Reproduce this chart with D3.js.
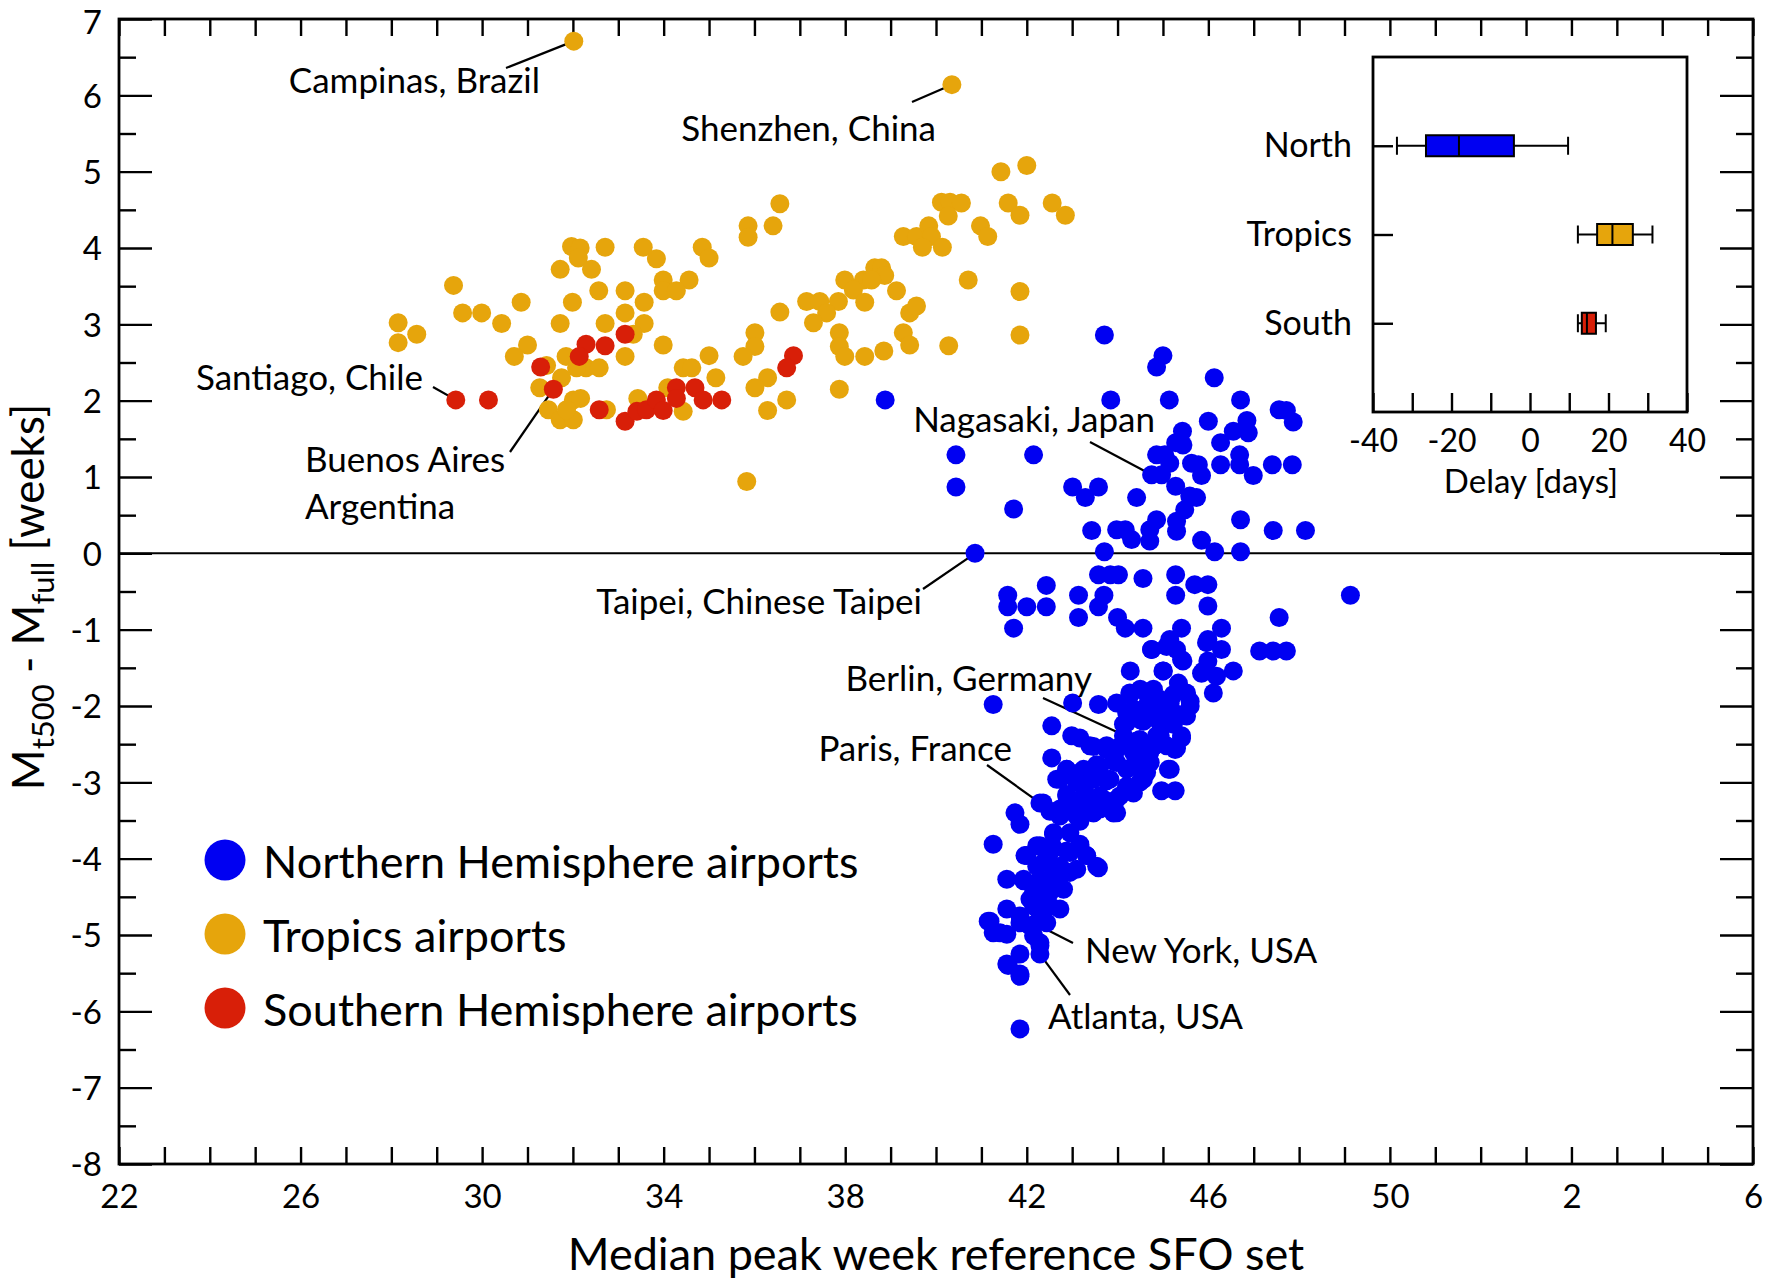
<!DOCTYPE html>
<html>
<head>
<meta charset="utf-8">
<script src="https://cdn.jsdelivr.net/npm/d3@7"></script>
<style>
  body { margin: 0; background: #fff; }
  svg { display: block; font-family: Lato, "Open Sans", sans-serif; }
</style>
</head>
<body>
<svg id="chart"></svg>
<script>
// ---- data (week of peak, M_t500 - M_full in weeks) ----
const northern = [
  [43.71,2.86],[38.88,2.01],[43.85,2.01],[40.44,1.29],[42.15,1.29],[40.44,0.87],[41.71,0.58],[43.01,0.87],
  [43.58,0.87],[43.29,0.73],[43.43,0.30],[43.98,0.31],[44.17,0.31],[40.86,0.0],[43.71,0.02],[43.58,-0.28],
  [43.84,-0.28],[44.02,-0.28],[42.43,-0.42],[41.58,-0.55],[41.58,-0.70],[42.00,-0.70],[42.43,-0.70],[41.71,-0.98],
  [43.14,-0.55],[43.70,-0.55],[43.58,-0.70],[43.14,-0.84],[44.00,-0.84],[44.17,-0.98],[44.28,-1.54],
  [45.00,2.59],[44.86,2.44],[46.13,2.30],[45.14,2.01],[46.71,2.01],[47.56,1.88],[47.72,1.87],[47.87,1.72],
  [46.00,1.73],[46.85,1.74],[46.55,1.60],[46.88,1.58],[45.43,1.60],[45.28,1.45],[45.44,1.42],[46.27,1.45],
  [44.86,1.29],[45.04,1.29],[46.69,1.29],[45.15,1.18],[45.63,1.18],[45.78,1.16],[46.27,1.16],[46.69,1.16],
  [47.41,1.16],[47.85,1.16],[44.75,1.03],[44.97,1.03],[45.85,1.02],[46.99,1.02],[45.28,0.88],[44.42,0.73],
  [45.59,0.75],[45.74,0.73],[45.48,0.57],[44.86,0.44],[45.30,0.42],[46.71,0.44],[44.71,0.31],[45.30,0.29],
  [47.43,0.30],[48.14,0.30],[44.31,0.18],[44.71,0.16],[45.85,0.17],[46.14,0.02],[46.71,0.02],[44.56,-0.33],
  [45.28,-0.28],[45.70,-0.41],[45.99,-0.41],[45.28,-0.55],[45.99,-0.69],[49.13,-0.55],[47.56,-0.84],[44.56,-0.98],
  [45.41,-0.98],[46.29,-0.98],[45.15,-1.13],[45.99,-1.13],[44.75,-1.26],[45.30,-1.26],[46.29,-1.26],[47.13,-1.28],
  [47.43,-1.28],[47.72,-1.28],[45.44,-1.41],[45.99,-1.41],[45.00,-1.54],[46.55,-1.54],[45.85,-1.57],
  [41.26,-1.98],[43.01,-1.96],[43.58,-1.98],[43.98,-1.96],[44.28,-1.85],[44.50,-1.78],[44.79,-1.78],[45.38,-1.78],
  [45.60,-1.94],[44.20,-2.09],[44.64,-2.00],[45.16,-1.96],[45.34,-2.11],[44.86,-2.13],[44.50,-2.18],[44.13,-2.24],
  [42.55,-2.26],[42.99,-2.39],[43.17,-2.42],[43.47,-2.53],[43.76,-2.57],[44.05,-2.53],[44.42,-2.46],[44.79,-2.53],
  [44.94,-2.39],[45.41,-2.42],[45.27,-2.57],[42.55,-2.68],[42.88,-2.83],[43.17,-2.87],[43.54,-2.77],[43.91,-2.72],
  [44.20,-2.83],[44.50,-2.70],[44.72,-2.74],[45.16,-2.83],[44.57,-2.96],[42.66,-2.96],[43.32,-3.00],[43.76,-2.98],
  [44.20,-3.07],[44.97,-3.11],[45.27,-3.11],[42.29,-3.27],[42.51,-3.38],[42.88,-3.16],[42.95,-3.31],[43.25,-3.27],
  [43.61,-3.35],[43.98,-3.40],[42.73,-3.44],[43.17,-3.51],[41.74,-3.40],[41.85,-3.55],[41.26,-3.81],[42.59,-3.68],
  [42.29,-3.83],[43.17,-3.81],[41.96,-3.96],[42.51,-3.92],[42.88,-3.90],[43.32,-3.96],[43.58,-4.12],[42.22,-4.10],
  [42.59,-4.14],[42.95,-4.18],[41.56,-4.27],[41.93,-4.29],[42.29,-4.31],[42.66,-4.36],[42.07,-4.53],[42.44,-4.53],
  [42.73,-4.66],[41.56,-4.66],[42.29,-4.71],[41.15,-4.82],[41.85,-4.75],[41.26,-4.97],[41.56,-4.99],[42.07,-4.88],
  [42.44,-4.84],[42.29,-5.10],[42.29,-5.25],[41.85,-5.25],[41.56,-5.38],[41.85,-5.51],[41.85,-6.23],
  // dense core, read from close-up
  [44.75,-1.26],[45.08,-1.22],[45.41,-1.39],[45.01,-1.54],[45.34,-1.70],[45.96,-1.17],[45.89,-1.54],[46.11,-1.83],
  [46.18,-1.61],[44.27,-1.83],[44.64,-1.83],[44.93,-1.91],[45.23,-1.85],[45.52,-1.83],[45.60,-2.00],[45.52,-2.13],
  [44.35,-2.04],[44.71,-2.04],[45.08,-2.04],[44.93,-2.22],[44.57,-2.20],[44.20,-2.22],[45.23,-2.24],[44.13,-2.39],
  [44.49,-2.44],[44.86,-2.39],[44.71,-2.61],[45.08,-2.52],[44.35,-2.61],[43.98,-2.57],[45.41,-2.39],[45.30,-2.55],
  [43.39,-2.52],[43.76,-2.52],[45.12,-2.83],[42.88,-2.83],[43.25,-2.83],[43.61,-2.79],[43.98,-2.74],[44.35,-2.79],
  [44.64,-2.87],[42.73,-2.96],[43.10,-3.00],[43.47,-2.96],[43.83,-2.96],[44.20,-3.05],[44.49,-3.00],[42.88,-3.18],
  [43.25,-3.18],[43.61,-3.18],[43.98,-3.22],[44.35,-3.14],[42.36,-3.27],[42.73,-3.35],[43.10,-3.35],[43.47,-3.40],
  [43.91,-3.40],[42.95,-3.22],[43.32,-3.18],[43.69,-3.22],[44.05,-3.18],[43.91,-3.40],[43.47,-3.40],[43.10,-3.44],
  [42.59,-3.66],[42.95,-3.66],[43.17,-3.83],[43.54,-4.10],[42.22,-3.83],[42.59,-3.86],[42.95,-3.92],[43.32,-3.96],
  [42.00,-3.96],[42.37,-4.05],[42.73,-4.10],[43.10,-4.14],[41.93,-4.27],[42.29,-4.27],[42.66,-4.27],[42.15,-4.44],
  [42.51,-4.44],[42.81,-4.40],[42.15,-4.62],[42.51,-4.62],[41.19,-4.82],[41.41,-4.97],[41.85,-4.84],[42.22,-4.84],
  [42.15,-5.01],[42.29,-5.14],[41.59,-5.40],[41.85,-5.54]
];

const tropics = [
  [32.02,6.71],[40.35,6.14],
  [29.37,3.51],[28.15,3.02],[28.15,2.76],[28.56,2.87],[29.57,3.15],[29.99,3.15],[30.43,3.01],[30.86,3.29],
  [31.00,2.73],[30.71,2.58],[31.72,3.72],[31.97,4.02],[32.16,4.00],[32.12,3.87],[32.41,3.72],[32.71,4.01],
  [33.55,4.01],[33.84,3.86],[34.85,4.01],[35.00,3.87],[32.57,3.44],[33.15,3.44],[31.99,3.29],[33.15,3.15],
  [33.57,3.29],[33.99,3.58],[34.56,3.58],[33.99,3.44],[34.28,3.44],[31.72,3.01],[32.71,3.01],[33.57,3.01],
  [33.33,2.87],[33.99,2.73],[33.15,2.58],[31.85,2.58],[32.29,2.43],[32.58,2.43],[32.08,2.43],[31.42,2.46],
  [31.75,2.30],[31.27,2.17],[31.46,1.88],[31.72,1.75],[32.01,1.75],[32.01,2.01],[32.17,2.03],[31.86,1.88],
  [32.74,1.88],[33.43,2.03],[34.43,2.43],[34.62,2.43],[35.00,2.59],[35.15,2.30],[34.09,2.17],[34.43,1.86],
  [41.43,5.00],[42.00,5.08],[36.56,4.58],[35.86,4.29],[35.86,4.14],[36.41,4.29],[40.12,4.60],[40.31,4.60],
  [40.56,4.59],[40.27,4.42],[41.59,4.59],[41.85,4.43],[42.56,4.59],[42.85,4.43],[39.28,4.15],[39.57,4.15],
  [39.84,4.29],[39.90,4.15],[39.70,4.01],[40.14,4.01],[40.98,4.29],[41.14,4.15],[38.65,3.74],[38.80,3.74],
  [38.87,3.64],[38.40,3.58],[38.58,3.58],[37.99,3.58],[38.18,3.45],[39.13,3.44],[40.71,3.58],[41.85,3.43],
  [36.56,3.16],[37.15,3.30],[37.44,3.30],[37.85,3.30],[37.59,3.15],[38.43,3.29],[37.30,3.02],[39.42,3.15],
  [39.57,3.24],[36.01,2.89],[36.01,2.71],[35.75,2.58],[37.87,2.89],[37.87,2.71],[37.99,2.58],[38.43,2.58],
  [38.85,2.65],[39.28,2.89],[39.42,2.73],[40.28,2.72],[41.85,2.86],[36.29,2.30],[36.01,2.17],[36.71,2.01],
  [36.29,1.87],[37.87,2.15],[35.83,0.94]
];

const southern = [
  [29.42,2.01],[30.14,2.01],[31.29,2.44],[31.57,2.15],[32.29,2.74],[32.14,2.58],[32.71,2.72],[33.15,2.87],
  [32.58,1.88],[33.15,1.73],[33.41,1.86],[33.62,1.88],[33.84,2.01],[33.99,1.87],[34.28,2.17],[34.28,2.03],
  [34.69,2.17],[34.87,2.01],[35.28,2.01],[36.86,2.59],[36.71,2.43]
];

const seriesNames = ["Northern Hemisphere airports", "Tropics airports", "Southern Hemisphere airports"];
const seriesColors = ["#0000f2", "#e6a50c", "#d81f08"];

const xTickValues = [22, 26, 30, 34, 38, 42, 46, 50, 54, 58];
const xTickLabels = ["22", "26", "30", "34", "38", "42", "46", "50", "2", "6"];
const yTickValues = [-8, -7, -6, -5, -4, -3, -2, -1, 0, 1, 2, 3, 4, 5, 6, 7];

// annotated airports: name lines and the point they mark
const annotNames = [["Campinas, Brazil"], ["Shenzhen, China"], ["Santiago, Chile"], ["Buenos Aires", "Argentina"],
  ["Nagasaki, Japan"], ["Taipei, Chinese Taipei"], ["Berlin, Germany"], ["Paris, France"], ["New York, USA"], ["Atlanta, USA"]];
const annotTargets = [[32.02,6.71],[40.35,6.14],[29.42,2.01],[31.57,2.15],[44.75,1.03],[40.86,0.0],
  [44.42,-2.46],[42.29,-3.27],[41.85,-4.75],[42.29,-5.25]];

// inset: delay in days
const boxCats = ["North", "Tropics", "South"];
const boxLo = [-33.9, 12.2, 12.2];
const boxQ1 = [-26.5, 17.1, 13.2];
const boxMed = [-18.1, 21.0, 14.5];
const boxQ3 = [-4.1, 26.2, 16.8];
const boxHi = [9.7, 31.2, 19.3];
const insetTicks = [-40, -20, 0, 20, 40];

// ---- layout ----
const W = 1772, H = 1284;
const plot = {left: 119, right: 1753, top: 19, bottom: 1164};
const svg = d3.select("#chart").attr("width", W).attr("height", H);
svg.append("rect").attr("width", W).attr("height", H).attr("fill", "#fff");

const x = d3.scaleLinear().domain([22, 58]).range([plot.left, plot.right]);
const y = d3.scaleLinear().domain([-8, 7]).range([plot.bottom, plot.top]);

const axisFont = "Lato, 'Open Sans', sans-serif";

function styleAxis(g, w) {
  g.select(".domain").remove();
  g.selectAll(".tick line").attr("stroke", "#000").attr("stroke-width", w);
  g.selectAll("text").attr("font-family", axisFont).attr("font-size", 33).attr("fill", "#000");
}

// y ticks left and right
svg.append("g").attr("transform", `translate(${plot.left},0)`)
  .call(d3.axisLeft(y).tickValues(yTickValues).tickSize(-33).tickPadding(17).tickFormat(d => String(d)))
  .call(g => styleAxis(g, 2.4))
  .call(g => g.selectAll("text").attr("dy", d => d === 7 ? "0.45em" : "0.36em"));
svg.append("g").attr("transform", `translate(${plot.left},0)`)
  .call(d3.axisLeft(y).tickValues(d3.range(-7.5, 7, 1)).tickSize(-17).tickFormat(""))
  .call(g => styleAxis(g, 2.4));
svg.append("g").attr("transform", `translate(${plot.right},0)`)
  .call(d3.axisRight(y).tickValues(yTickValues).tickSize(-33).tickFormat(""))
  .call(g => styleAxis(g, 2.4));
svg.append("g").attr("transform", `translate(${plot.right},0)`)
  .call(d3.axisRight(y).tickValues(d3.range(-7.5, 7, 1)).tickSize(-17).tickFormat(""))
  .call(g => styleAxis(g, 2.4));

// x ticks bottom and top (weekly)
svg.append("g").attr("transform", `translate(0,${plot.bottom})`)
  .call(d3.axisBottom(x).tickValues(d3.range(22, 59)).tickSize(-17).tickFormat(""))
  .call(g => styleAxis(g, 2.4));
svg.append("g").attr("transform", `translate(0,${plot.bottom})`)
  .call(d3.axisBottom(x).tickValues(xTickValues).tickSize(0).tickPadding(21)
    .tickFormat((d, i) => xTickLabels[i]))
  .call(g => styleAxis(g, 0));
svg.append("g").attr("transform", `translate(0,${plot.top})`)
  .call(d3.axisTop(x).tickValues(d3.range(22, 59)).tickSize(-17).tickFormat(""))
  .call(g => styleAxis(g, 2.4));

// frame + zero line
svg.append("rect")
  .attr("x", plot.left).attr("y", plot.top)
  .attr("width", plot.right - plot.left).attr("height", plot.bottom - plot.top)
  .attr("fill", "none").attr("stroke", "#000").attr("stroke-width", 2.8);
svg.append("line")
  .attr("x1", plot.left).attr("x2", plot.right)
  .attr("y1", y(0)).attr("y2", y(0))
  .attr("stroke", "#000").attr("stroke-width", 2);

// axis titles
svg.append("text")
  .attr("x", (plot.left + plot.right) / 2).attr("y", 1270)
  .attr("text-anchor", "middle").attr("font-size", 45)
  .text("Median peak week reference SFO set");

const yt = svg.append("text")
  .attr("transform", "translate(44,597) rotate(-90)")
  .attr("text-anchor", "middle").attr("font-size", 44);
yt.append("tspan").text("M");
yt.append("tspan").attr("font-size", 31).attr("dy", 10).text("t500");
yt.append("tspan").attr("dy", -10).text(" - M");
yt.append("tspan").attr("font-size", 31).attr("dy", 10).text("full");
yt.append("tspan").attr("dy", -10).text(" [weeks]");

// annotation leader lines (under the points)
const labelLayout = [
  {tx: 540, ty: 93, anchor: "end", lx: 506, ly: 68},
  {tx: 936, ty: 141, anchor: "end", lx: 912, ly: 102},
  {tx: 423, ty: 390, anchor: "end", lx: 433, ly: 387},
  {tx: 305, ty: 472, anchor: "start", lx: 510, ly: 452},
  {tx: 1155, ty: 432, anchor: "end", lx: 1090, ly: 442},
  {tx: 922, ty: 614, anchor: "end", lx: 923, ly: 589},
  {tx: 1092, ty: 691, anchor: "end", lx: 1043, ly: 698},
  {tx: 1012, ty: 761, anchor: "end", lx: 987, ly: 765},
  {tx: 1085, ty: 963, anchor: "start", lx: 1073, ly: 943},
  {tx: 1048, ty: 1029, anchor: "start", lx: 1070, ly: 995}
];

svg.append("g").selectAll("line")
  .data(annotTargets)
  .join("line")
  .attr("x1", (d, i) => labelLayout[i].lx).attr("y1", (d, i) => labelLayout[i].ly)
  .attr("x2", d => x(d[0])).attr("y2", d => y(d[1]))
  .attr("stroke", "#000").attr("stroke-width", 2.2);

// points
const groups = [northern, tropics, southern];
groups.forEach((pts, gi) => {
  svg.append("g").selectAll("circle")
    .data(pts)
    .join("circle")
    .attr("cx", d => x(d[0])).attr("cy", d => y(d[1]))
    .attr("r", 9.5)
    .attr("fill", seriesColors[gi]);
});

// annotation texts
const annG = svg.append("g").attr("font-size", 35);
annotNames.forEach((lines, i) => {
  const L = labelLayout[i];
  const t = annG.append("text").attr("x", L.tx).attr("y", L.ty).attr("text-anchor", L.anchor);
  lines.forEach((s, j) => t.append("tspan").attr("x", L.tx).attr("dy", j ? 47 : 0).text(s));
});

// legend
const legend = svg.append("g");
seriesNames.forEach((name, i) => {
  const cy = 860 + i * 74;
  legend.append("circle").attr("cx", 225).attr("cy", cy).attr("r", 20.5).attr("fill", seriesColors[i]);
  legend.append("text").attr("x", 263).attr("y", cy + 18).attr("font-size", 45).text(name);
});

// ---- inset box plot ----
const inset = {left: 1373, right: 1687, top: 57, bottom: 412};
const xi = d3.scaleLinear().domain([-40, 40]).range([inset.left, inset.right]);
const yi = d3.scalePoint().domain(boxCats).range([inset.top, inset.bottom]).padding(1);

svg.append("rect")
  .attr("x", inset.left).attr("y", inset.top)
  .attr("width", inset.right - inset.left).attr("height", inset.bottom - inset.top)
  .attr("fill", "#fff").attr("stroke", "#000").attr("stroke-width", 2.8);

svg.append("g").attr("transform", `translate(0,${inset.bottom})`)
  .call(d3.axisBottom(xi).tickValues(d3.range(-40, 41, 10)).tickSize(-19).tickFormat(""))
  .call(g => styleAxis(g, 2.4));
svg.append("g").attr("transform", `translate(0,${inset.bottom})`)
  .call(d3.axisBottom(xi).tickValues(insetTicks).tickSize(0).tickPadding(17).tickFormat(d => String(d)))
  .call(g => styleAxis(g, 0))
  .call(g => g.selectAll("text").attr("font-size", 32));
svg.append("g").attr("transform", `translate(${inset.left},0)`)
  .call(d3.axisLeft(yi).tickSize(-20).tickPadding(21))
  .call(g => styleAxis(g, 2.4))
  .call(g => g.selectAll("text").attr("font-size", 34));

svg.append("text")
  .attr("x", (inset.left + inset.right) / 2 + 1).attr("y", 493)
  .attr("text-anchor", "middle").attr("font-size", 33)
  .text("Delay [days]");

const boxH = 21, capH = 18;
boxCats.forEach((c, i) => {
  const cy = yi(c);
  const g = svg.append("g").attr("stroke", "#000").attr("stroke-width", 2);
  g.append("line").attr("x1", xi(boxLo[i])).attr("x2", xi(boxHi[i])).attr("y1", cy).attr("y2", cy);
  g.append("line").attr("x1", xi(boxLo[i])).attr("x2", xi(boxLo[i])).attr("y1", cy - capH / 2).attr("y2", cy + capH / 2);
  g.append("line").attr("x1", xi(boxHi[i])).attr("x2", xi(boxHi[i])).attr("y1", cy - capH / 2).attr("y2", cy + capH / 2);
  g.append("rect")
    .attr("x", xi(boxQ1[i])).attr("y", cy - boxH / 2)
    .attr("width", xi(boxQ3[i]) - xi(boxQ1[i])).attr("height", boxH)
    .attr("fill", seriesColors[i]);
  g.append("line").attr("x1", xi(boxMed[i])).attr("x2", xi(boxMed[i])).attr("y1", cy - boxH / 2).attr("y2", cy + boxH / 2);
});
</script>
</body>
</html>
